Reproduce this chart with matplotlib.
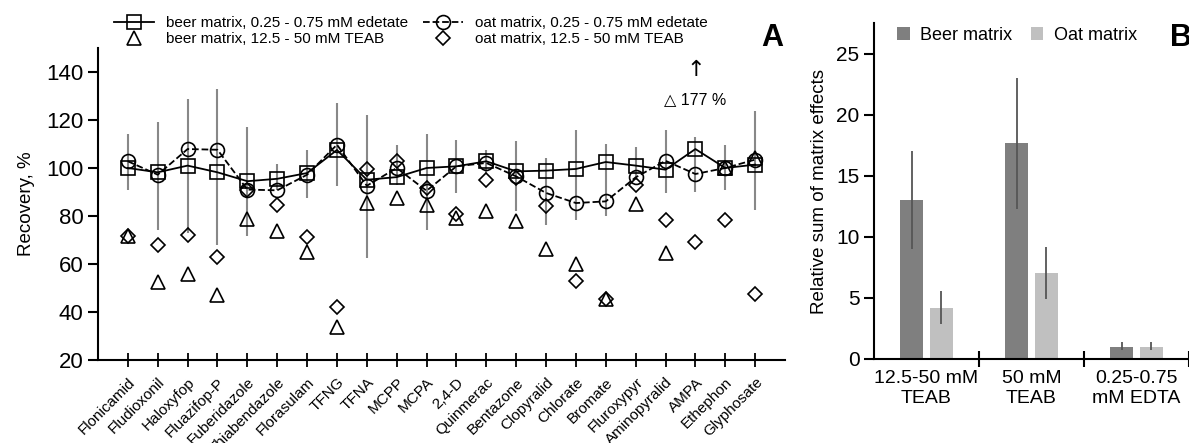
import matplotlib.pyplot as plt
import numpy as np

plt.rcParams['font.family'] = ['Liberation Sans', 'DejaVu Sans']

# Panel A - recoveries
compounds = ['Flonicamid', 'Fludioxonil', 'Haloxyfop', 'Fluazifop-P', 'Fuberidazole',
             'Thiabendazole', 'Florasulam', 'TFNG', 'TFNA', 'MCPP', 'MCPA', '2,4-D',
             'Quinmerac', 'Bentazone', 'Clopyralid', 'Chlorate', 'Bromate', 'Fluroxypyr',
             'Aminopyralid', 'AMPA', 'Ethephon', 'Glyphosate']
beer_edta = [100, 98.2, 101, 98.2, 94.5, 95.5, 97.9, 107.5, 95.1, 96.2, 100, 100.7,
             102.8, 98.6, 98.9, 99.6, 102.5, 101, 99.3, 107.9, 100, 101.4]
oat_edta = [102.8, 97.2, 107.9, 107.6, 91.0, 90.7, 97.2, 109.7, 92.6, 100, 90.5, 100.7,
            102.1, 96.5, 89.6, 85.4, 86.1, 96.1, 103.0, 97.5, 100, 103.5]
beer_teab = [71.5, 52.3, 55.8, 47.2, 78.7, 73.6, 64.8, 33.6, 85.4, 87.5, 84.7, 79.2,
             81.9, 77.8, 66.2, 60.1, 45.4, 85.1, 64.6, 177, 100, 104.2]
oat_teab = [71.6, 68.0, 71.9, 62.8, 91.0, 84.7, 71.1, 42.1, 99.5, 103.0, 91.7, 81.0,
            95.1, 96.0, 84.3, 53.0, 45.4, 93.0, 78.5, 69.0, 78.5, 47.5]
err_low = [91.0, 74.3, 72.9, 68.0, 71.5, 91.0, 87.5, 92.3, 62.5, 93.0, 74.0, 89.6,
           98.0, 81.9, 76.1, 78.5, 79.8, 95.0, 89.6, 89.8, 91.0, 82.6]
err_high = [114.3, 119.0, 128.7, 132.9, 116.9, 101.7, 107.6, 127.1, 121.9, 109.7, 114.3,
            111.8, 107.6, 111.1, 104.2, 116.0, 110.0, 108.7, 116.0, 112.9, 109.7, 123.6]

# Panel B - relative sum of matrix effects
groups = ['12.5-50 mM\nTEAB', '50 mM\nTEAB', '0.25-0.75\nmM EDTA']
beer_sum = [13.0, 17.7, 1.0]
oat_sum = [4.2, 7.0, 1.0]
beer_lo = [9.0, 12.3, 0.7]
beer_hi = [17.0, 23.0, 1.4]
oat_lo = [2.9, 4.9, 0.7]
oat_hi = [5.6, 9.2, 1.4]

W, H = 1189, 443
fig = plt.figure(figsize=(W / 100, H / 100), dpi=100)

# ---------------- Panel A ----------------
axA = fig.add_axes([98 / W, 1 - 360 / H, (785 - 98) / W, (360 - 48) / H])
x = np.arange(len(compounds))
axA.vlines(x, err_low, err_high, color='#888888', lw=1.5, zorder=1)
axA.plot(x, beer_edta, '-', color='black', lw=1.3, marker='s', ms=10, mfc='none',
         mec='black', mew=1.2, label='beer matrix, 0.25 - 0.75 mM edetate', zorder=3)
axA.plot(x, oat_edta, '--', color='black', lw=1.3, marker='o', ms=10, mfc='none',
         mec='black', mew=1.2, label='oat matrix, 0.25 - 0.75 mM edetate', zorder=3)
axA.plot(x, beer_teab, ls='none', marker='^', ms=10, mfc='none', mec='black', mew=1.2,
         label='beer matrix, 12.5 - 50 mM TEAB', zorder=3)
axA.plot(x, oat_teab, ls='none', marker='D', ms=7, mfc='none', mec='black', mew=1.2,
         label='oat matrix, 12.5 - 50 mM TEAB', zorder=3)

axA.set_xlim(-1, 22)
axA.set_ylim(20, 150)
axA.set_yticks([20, 40, 60, 80, 100, 120, 140])
axA.set_xticks(x)
axA.set_xticklabels(compounds, rotation=45, ha='right', rotation_mode='anchor', fontsize=11)
axA.tick_params(axis='y', labelsize=16, length=7, width=1.5, direction='out')
axA.tick_params(axis='x', length=10, width=1.3, direction='inout', pad=6)
axA.set_ylabel('Recovery, %', fontsize=13.5, labelpad=8)
for s in ['top', 'right']:
    axA.spines[s].set_visible(False)
axA.spines['left'].set_linewidth(1.5)
axA.spines['bottom'].set_linewidth(1.5)

# off-scale AMPA annotation
ampa = compounds.index('AMPA')
axA.text(ampa, 141, '\u2191', ha='center', va='center', fontsize=16,
         family=['DejaVu Sans'])
axA.text(ampa, 128.5, '\u25b3 177 %', ha='center', va='center', fontsize=11.5)

handles, labels = axA.get_legend_handles_labels()
order = [0, 2, 1, 3]
fig.legend([handles[i] for i in order], [labels[i] for i in order], ncol=2,
           loc='upper left', bbox_to_anchor=(108 / W, 1 - 10 / H), frameon=False,
           fontsize=11, handlelength=2.6, handletextpad=0.8, columnspacing=1.0,
           labelspacing=0.15, borderaxespad=0)
fig.text(772 / W, 1 - 38 / H, 'A', fontsize=22, fontweight='bold', ha='center', va='center')

# ---------------- Panel B ----------------
axB = fig.add_axes([874 / W, 1 - 359 / H, (1189 - 874) / W, (359 - 23) / H])
gx = np.arange(len(groups))
off, bw = 0.14, 0.22
axB.bar(gx - off, beer_sum, bw, color='#7f7f7f', label='Beer matrix', zorder=2)
axB.bar(gx + off, oat_sum, bw, color='#c0c0c0', label='Oat matrix', zorder=2)
axB.vlines(gx - off, beer_lo, beer_hi, color='#555555', lw=1.3, zorder=3)
axB.vlines(gx + off, oat_lo, oat_hi, color='#555555', lw=1.3, zorder=3)
axB.set_xlim(-0.5, 2.5)
axB.set_ylim(0, 27.5)
axB.set_yticks([0, 5, 10, 15, 20, 25])
axB.set_xticks([0.5, 1.5, 2.5])
axB.set_xticklabels([])
axB.set_xticks(gx, minor=True)
axB.set_xticklabels(groups, minor=True, fontsize=14)
axB.tick_params(axis='x', which='major', length=12, width=1.5, direction='inout')
axB.tick_params(axis='x', which='minor', length=0, pad=8)
axB.tick_params(axis='y', labelsize=15, length=7, width=1.5, direction='out')
axB.set_ylabel('Relative sum of matrix effects', fontsize=13.5, labelpad=6)
for s in ['top', 'right']:
    axB.spines[s].set_visible(False)
axB.spines['left'].set_linewidth(1.5)
axB.spines['bottom'].set_linewidth(1.5)
axB.legend(ncol=2, loc='upper left', bbox_to_anchor=(0.05, 1.01), frameon=False,
           fontsize=13, handlelength=0.7, handleheight=0.7, handletextpad=0.6,
           columnspacing=1.0, borderaxespad=0)
fig.text(1181 / W, 1 - 38 / H, 'B', fontsize=22, fontweight='bold', ha='center', va='center')

fig.savefig('out.png', dpi=100)
